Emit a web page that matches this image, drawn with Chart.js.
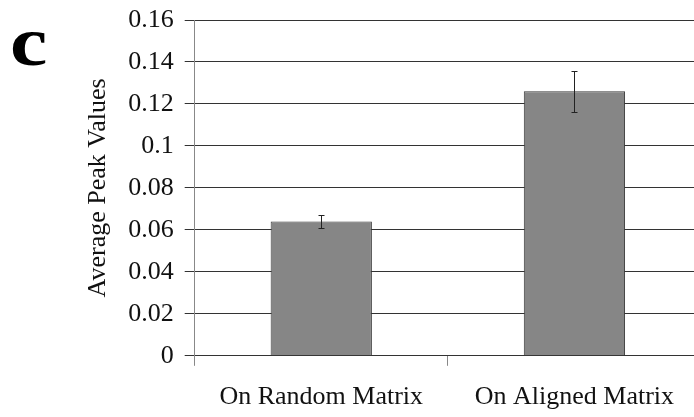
<!DOCTYPE html>
<html>
<head>
<meta charset="utf-8">
<script src="https://cdn.jsdelivr.net/npm/chart.js@4"></script>
<style>
  html, body { margin: 0; padding: 0; background: #fff; }
  #wrap { width: 694px; height: 417px; position: relative; }
</style>
</head>
<body>
<div id="wrap"><canvas id="chart" width="694" height="417"></canvas></div>
<script>
// -------------------------------------------------------------
// DATA
// -------------------------------------------------------------
const categories = ["On Random Matrix", "On Aligned Matrix"];
const peakValues = [0.064, 0.126];
const peakErrors = [0.003, 0.0097];
const yTicks = [0, 0.02, 0.04, 0.06, 0.08, 0.1, 0.12, 0.14, 0.16];

const SERIF = "'Liberation Serif', 'Times New Roman', serif";

// -------------------------------------------------------------
// PLUGINS
// -------------------------------------------------------------
// the category axis runs a few px past the right edge of the picture
const widenX = {
  id: "widenX",
  afterLayout(chart) {
    const x = chart.scales.x;
    x.right += 7;
    x.width += 7;
    x.configure();
  }
};

const errorBars = {
  id: "errorBars",
  afterDatasetsDraw(chart) {
    const { ctx, scales } = chart;
    const meta = chart.getDatasetMeta(0);
    ctx.save();
    ctx.strokeStyle = "#222";
    ctx.lineWidth = 1;
    meta.data.forEach((bar, i) => {
      const x = Math.round(bar.x) + 0.5;
      const top = Math.round(scales.y.getPixelForValue(peakValues[i] + peakErrors[i])) + 0.5;
      const bot = Math.round(scales.y.getPixelForValue(peakValues[i] - peakErrors[i])) + 0.5;
      ctx.beginPath();
      ctx.moveTo(x, top); ctx.lineTo(x, bot);
      ctx.moveTo(x - 3, top); ctx.lineTo(x + 3, top);
      ctx.moveTo(x - 3, bot); ctx.lineTo(x + 3, bot);
      ctx.stroke();
    });
    ctx.restore();
  }
};

const panelLetter = {
  id: "panelLetter",
  afterDraw(chart) {
    const { ctx } = chart;
    ctx.save();
    ctx.fillStyle = "#000";
    ctx.font = "bold 70px " + SERIF;
    ctx.textBaseline = "alphabetic";
    ctx.translate(10, 65);
    ctx.scale(1.2, 1);
    ctx.fillText("c", 0, 0);
    ctx.restore();
  }
};

// -------------------------------------------------------------
// CHART
// -------------------------------------------------------------
new Chart(document.getElementById("chart"), {
  type: "bar",
  data: {
    labels: categories,
    datasets: [{
      data: peakValues,
      backgroundColor: "#868686",
      borderColor: "#3a3a3a",
      borderWidth: 1,
      barPercentage: 0.4,
      categoryPercentage: 1
    }]
  },
  options: {
    responsive: false,
    animation: false,
    devicePixelRatio: 1,
    layout: { padding: { top: 20, right: 0, bottom: -12, left: 83 } },
    plugins: {
      legend: { display: false },
      tooltip: { enabled: false }
    },
    scales: {
      x: {
        grid: {
          drawOnChartArea: false,
          drawTicks: true,
          tickLength: 10,
          color: "#888"
        },
        border: { color: "#333" },
        ticks: {
          color: "#111",
          font: { family: SERIF, size: 26 },
          padding: 16,
          maxRotation: 0
        }
      },
      y: {
        min: 0,
        max: 0.16,
        afterBuildTicks(axis) {
          axis.ticks = yTicks.map(v => ({ value: v }));
        },
        afterFit(axis) {
          axis.paddingTop = 0;
          axis.paddingBottom = 0;
        },
        grid: {
          color: "#333",
          tickLength: 10
        },
        border: { color: "#888" },
        ticks: {
          color: "#111",
          font: { family: SERIF, size: 26 },
          padding: 11,
          callback: v => String(v)
        },
        title: {
          display: true,
          text: "Average Peak Values",
          color: "#111",
          font: { family: SERIF, size: 26 },
          padding: { top: 0, bottom: 3 }
        }
      }
    }
  },
  plugins: [widenX, errorBars, panelLetter]
});
</script>
</body>
</html>
